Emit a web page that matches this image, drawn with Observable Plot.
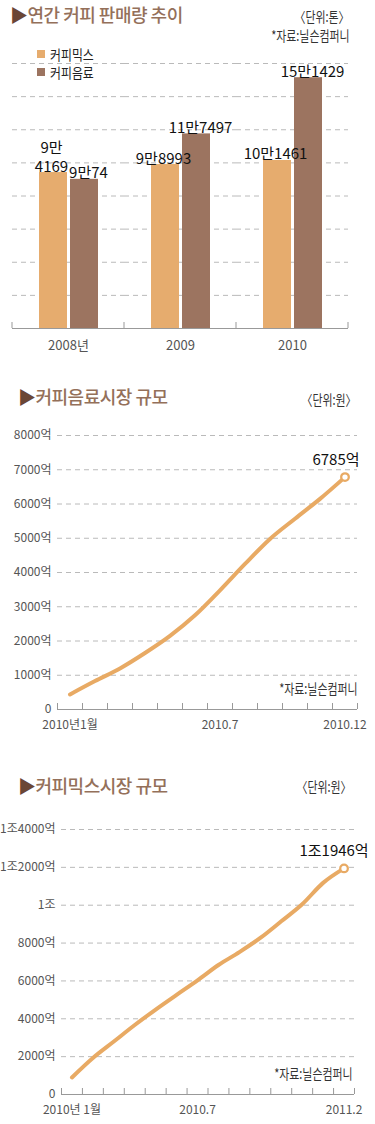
<!DOCTYPE html>
<html><head><meta charset="utf-8">
<script src="https://cdn.jsdelivr.net/npm/d3@7"></script>
<script src="https://cdn.jsdelivr.net/npm/@observablehq/plot@0.6"></script>
<style>
body{margin:0;background:#fff;}
#wrap{position:relative;width:375px;height:1124px;overflow:hidden;font-family:"Noto Sans CJK KR",sans-serif;}
.abs{position:absolute;white-space:nowrap;}
.title{font-size:18px;line-height:18px;color:#94705a;font-weight:500;letter-spacing:-0.5px;}
.title .tri{color:#6a4636;}
.note{font-size:14px;line-height:14px;color:#333;transform:scaleX(0.78);transform-origin:right center;}
.leg{font-size:14px;line-height:14px;color:#222;transform:scaleX(0.85);transform-origin:left center;}
.sw{position:absolute;width:8px;height:8px;}
.chart{position:absolute;left:0;}
</style></head>
<body><div id="wrap"></div>
<script>
// ---------- data ----------
const years = ["2008년", "2009", "2010"];
const seriesNames = ["커피믹스", "커피음료"];
const mixValues = [94169, 98993, 101461];
const drinkValues = [90074, 117497, 151429];
const mixLabels = ["9만\n4169", "9만8993", "10만1461"];
const drinkLabels = ["9만74", "11만7497", "15만1429"];
const barGridTicks = [20000, 40000, 60000, 80000, 100000, 120000, 140000, 160000];

const drinkMarket = [440, 830, 1200, 1650, 2150, 2750, 3480, 4250, 4980, 5570, 6150, 6785];
const drinkYTicks = [0, 1000, 2000, 3000, 4000, 5000, 6000, 7000, 8000];
const drinkXTickMonths = [1, 7, 12];
const drinkXTickLabels = ["2010년1월", "2010.7", "2010.12"];
const drinkEndLabel = "6785억";

const mixMarket = [900, 1930, 2800, 3670, 4490, 5265, 6030, 6840, 7520, 8270, 9150, 10050, 11180, 11946];
const mixYTicks = [0, 2000, 4000, 6000, 8000, 10000, 12000, 14000];
const mixXTickMonths = [1, 7, 14];
const mixXTickLabels = ["2010년 1월", "2010.7", "2011.2"];
const mixEndLabel = "1조1946억";

// ---------- styles ----------
const FONT = "'Liberation Sans Narrow','Noto Sans CJK KR',sans-serif";
const MIX = "#E6AC6E", DRINK = "#9C7460", LINE = "#E8AA64", GRID = "#a8a8a8", AXIS = "#999";

const wrap = document.getElementById("wrap");
function addHTML(html){ wrap.insertAdjacentHTML("beforeend", html); }
function place(el, top){ const d = document.createElement("div"); d.className = "chart"; d.style.top = top + "px"; d.appendChild(el); wrap.appendChild(d); }

// ---------- chart 1: bars ----------
const barRows = years.flatMap((yr, i) => [
  {year: yr, series: seriesNames[0], value: mixValues[i], label: mixLabels[i]},
  {year: yr, series: seriesNames[1], value: drinkValues[i], label: drinkLabels[i]}
]);
const chart1 = Plot.plot({
  width: 375, height: 360,
  marginTop: 63, marginBottom: 32, marginLeft: 12, marginRight: 27,
  style: {fontFamily: FONT, fontSize: "13px", color: "#555", background: "transparent", overflow: "visible"},
  fx: {domain: years, padding: 0, axis: "bottom", tickSize: 0, tickPadding: 12, label: null},
  x: {domain: seriesNames, paddingInner: 0.11, paddingOuter: 0.81, axis: null},
  y: {domain: [0, 160000], axis: null},
  color: {domain: seriesNames, range: [MIX, DRINK]},
  marks: [
    Plot.ruleY(barGridTicks, {stroke: GRID, strokeDasharray: "5,4", strokeWidth: 0.8}),
    Plot.ruleY([0], {stroke: AXIS}),
    Plot.barY(barRows, {fx: "year", x: "series", y: "value", fill: "series"}),
    Plot.text(barRows, {filter: d => d.series === seriesNames[0], fx: "year", x: "series", y: "value", text: "label",
      lineAnchor: "bottom", lineHeight: 1.25, dy: -1, dx: -2, fill: "#111", fontSize: 15}),
    Plot.text(barRows, {filter: d => d.series === seriesNames[1], fx: "year", x: "series", y: "value", text: "label",
      lineAnchor: "bottom", dy: -1, dx: 4, fill: "#111", fontSize: 15})
  ]
});
// edge tick marks at the band boundaries, placed with Plot's own scales
{
  const fxS = chart1.scale("fx"), yS = chart1.scale("y");
  const base = yS.apply(0);
  const edges = years.map(y => fxS.apply(y)).concat([fxS.apply(years[years.length - 1]) + fxS.bandwidth]);
  d3.select(chart1).append("g").selectAll("line").data(edges).join("line")
    .attr("x1", d => d).attr("x2", d => d).attr("y1", base - 6).attr("y2", base)
    .attr("stroke", AXIS);
}
place(chart1, 0);

// ---------- line chart helper ----------
function lineChart({values, yTicks, yFmt, tickMonths, tickLabels, endLabel, height, margins, endDx}) {
  const n = values.length;
  const rows = values.map((v, i) => ({m: i + 1, v}));
  const edges = d3.range(0.5, n + 1, 1);
  return Plot.plot({
    width: 375, height,
    ...margins,
    style: {fontFamily: FONT, fontSize: "12px", color: "#555", background: "transparent", overflow: "visible"},
    x: {domain: [0.5, n + 0.5], ticks: tickMonths, tickFormat: d => tickLabels[tickMonths.indexOf(d)], tickSize: 0, tickPadding: 11, label: null},
    y: {domain: [0, yTicks[yTicks.length - 1]], ticks: yTicks, tickFormat: yFmt, tickSize: 0, tickPadding: 6, label: null},
    marks: [
      Plot.ruleY(yTicks.filter(v => v > 0), {stroke: GRID, strokeDasharray: "5,4", strokeWidth: 0.8}),
      Plot.ruleY([0], {stroke: AXIS}),
      Plot.ruleX(edges, {x: d => d, y1: 0, y2: 0, insetTop: -6, stroke: AXIS}),
      Plot.line(rows, {x: "m", y: "v", stroke: LINE, strokeWidth: 4, curve: "monotone-x", strokeLinecap: "round"}),
      Plot.dot(rows.slice(-1), {x: "m", y: "v", r: 3.8, fill: "white", stroke: LINE, strokeWidth: 2.3}),
      Plot.text(rows.slice(-1), {x: "m", y: "v", text: () => endLabel, dx: endDx, dy: -17, fill: "#111", fontSize: 15})
    ]
  });
}

// ---------- chart 2 ----------
const chart2 = lineChart({
  values: drinkMarket, yTicks: drinkYTicks,
  yFmt: v => v === 0 ? "0" : v + "억",
  tickMonths: drinkXTickMonths, tickLabels: drinkXTickLabels, endLabel: drinkEndLabel,
  height: 370, margins: {marginTop: 65, marginBottom: 31, marginLeft: 57, marginRight: 18}, endDx: -9
});
place(chart2, 370);

// ---------- chart 3 ----------
const chart3 = lineChart({
  values: mixMarket, yTicks: mixYTicks,
  yFmt: v => v === 0 ? "0" : v === 10000 ? "1조" : v > 10000 ? "1조" + (v - 10000) + "억" : v + "억",
  tickMonths: mixXTickMonths, tickLabels: mixXTickLabels, endLabel: mixEndLabel,
  height: 384, margins: {marginTop: 89, marginBottom: 30, marginLeft: 61, marginRight: 21}, endDx: -10
});
place(chart3, 740);

// ---------- titles, notes, legend ----------
addHTML(`<div class="abs title" style="left:10px;top:5px"><span class="tri">▶</span>연간 커피 판매량 추이</div>`);
addHTML(`<div class="abs note" style="right:25px;top:9px">〈단위:톤〉</div>`);
addHTML(`<div class="abs note" style="right:25px;top:28px">*자료:닐슨컴퍼니</div>`);
addHTML(`<div class="sw" style="left:37px;top:50px;background:${MIX}"></div>`);
addHTML(`<div class="abs leg" style="left:50px;top:47px">${seriesNames[0]}</div>`);
addHTML(`<div class="sw" style="left:37px;top:68px;background:${DRINK}"></div>`);
addHTML(`<div class="abs leg" style="left:50px;top:65px">${seriesNames[1]}</div>`);

addHTML(`<div class="abs title" style="left:18px;top:387px"><span class="tri">▶</span>커피음료시장 규모</div>`);
addHTML(`<div class="abs note" style="right:18px;top:392px">〈단위:원〉</div>`);
addHTML(`<div class="abs note" style="right:17px;top:681px">*자료:닐슨컴퍼니</div>`);

addHTML(`<div class="abs title" style="left:18px;top:776px"><span class="tri">▶</span>커피믹스시장 규모</div>`);
addHTML(`<div class="abs note" style="right:23px;top:779px">〈단위:원〉</div>`);
addHTML(`<div class="abs note" style="right:22px;top:1066px">*자료:닐슨컴퍼니</div>`);
</script>
</body></html>
